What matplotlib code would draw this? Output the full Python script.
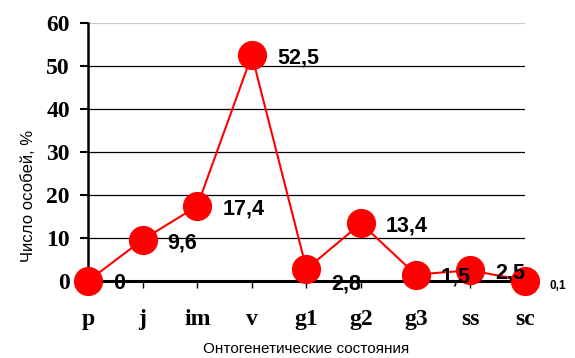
import matplotlib
matplotlib.use('Agg')
import matplotlib.pyplot as plt

states = ['p', 'j', 'im', 'v', 'g1', 'g2', 'g3', 'ss', 'sc']
share = [0, 9.6, 17.4, 52.5, 2.8, 13.4, 1.5, 2.5, 0.1]
labels = ['0', '9,6', '17,4', '52,5', '2,8', '13,4', '1,5', '2,5', '0,1']
yticks = [0, 10, 20, 30, 40, 50, 60]

fig = plt.figure(figsize=(5.75, 3.58), dpi=100)
ax = fig.add_axes([0.153, 0.215, 0.76, 0.721])

x = list(range(len(states)))
ax.plot(x, share, color='red', lw=1.5, marker='o', ms=20,
        markerfacecolor='red', markeredgecolor='red', clip_on=False, zorder=4)

# label offsets in points (g1 and sc sit lower in the original)
for i, (v, t) in enumerate(zip(share, labels)):
    dy = -2
    size = 15.5
    if states[i] == 'g1':
        dy = -11
    if states[i] == 'sc':
        dy = -4
        size = 8.5
    ax.annotate(t, (i, v), xytext=(18, dy), textcoords='offset points',
                ha='left', va='center', fontsize=size, fontweight='bold',
                family='Liberation Sans', zorder=5, annotation_clip=False)

ax.set_xlim(0, 8)
ax.set_ylim(0, 60)
ax.set_yticks(yticks)
ax.set_xticks(x)
ax.set_xticklabels(states)
for lab in ax.get_xticklabels() + ax.get_yticklabels():
    lab.set_family('Liberation Serif')
    lab.set_fontweight('bold')
    lab.set_fontsize(17)

ax.yaxis.grid(True, color='black', lw=0.9)
ax.get_ygridlines()[-1].set_color('#c8c8c8')
ax.set_axisbelow(True)
ax.spines['top'].set_visible(False)
ax.spines['right'].set_visible(False)
ax.spines['left'].set_linewidth(1.8)
ax.spines['bottom'].set_linewidth(2.2)
ax.tick_params(axis='y', direction='out', length=6, width=1.5, pad=7)
ax.tick_params(axis='x', direction='out', length=5, width=1, pad=15)

ax.set_ylabel('Число особей, %', family='Liberation Sans', fontsize=12)
ax.yaxis.set_label_coords(-0.12, 0.33)
ax.set_xlabel('Онтогенетические состояния', family='Liberation Sans', fontsize=11, labelpad=9)

fig.savefig('out.png', dpi=100)
